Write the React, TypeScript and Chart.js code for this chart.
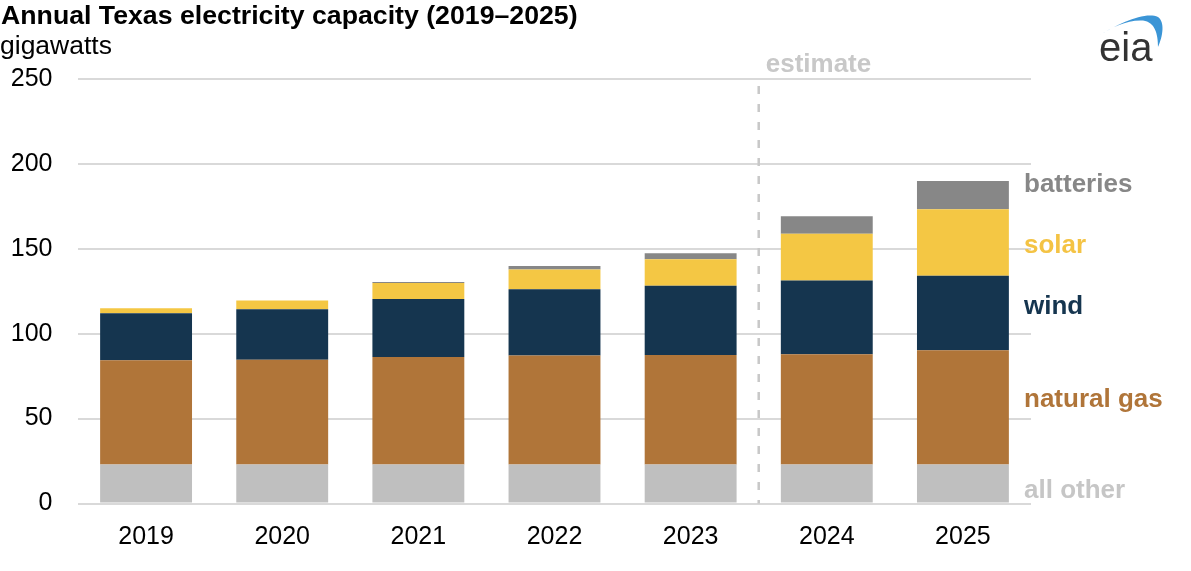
import React, { useEffect, useRef } from "react";
import { Chart, registerables } from "chart.js";

Chart.register(...registerables);

const years = ["2019", "2020", "2021", "2022", "2023", "2024", "2025"];
const allOther = [23, 23, 23, 23, 23, 23, 23];
const naturalGas = [61.4, 61.6, 63.3, 64.1, 64.5, 64.9, 67.3];
const wind = [27.7, 29.8, 34.2, 39.1, 40.7, 43.4, 43.8];
const solar = [2.9, 5.1, 9.3, 11.6, 15.7, 27.5, 39.2];
const batteries = [0, 0, 0.7, 2.1, 3.5, 10.4, 16.7];
const yTicks = [0, 50, 100, 150, 200, 250];

const seriesNames = ["all other", "natural gas", "wind", "solar", "batteries"];
const seriesColors = ["#bfbfbf", "#b07539", "#15354f", "#f4c744", "#878787"];
const labelColors = ["#c6c6c6", "#b07539", "#15354f", "#f4c344", "#878787"];
// value (gigawatts) where each right-side label's baseline sits
const labelAnchors = [3, 57, 111.7, 147.8, 183.4];
const lastActualIndex = 4; // dashed line between 2023 and 2024

const FONT = '"Liberation Sans", Arial, Helvetica, sans-serif';

const overlayPlugin = {
  id: "overlay",
  afterDraw(chart: any) {
    const ctx = chart.ctx;
    const x = chart.scales.x;
    const y = chart.scales.y;
    const area = chart.chartArea;
    ctx.save();

    // dashed estimate line
    const xs = (x.getPixelForValue(lastActualIndex) + x.getPixelForValue(lastActualIndex + 1)) / 2;
    ctx.strokeStyle = "#c8c8c8";
    ctx.lineWidth = 2.5;
    ctx.setLineDash([8, 10]);
    ctx.beginPath();
    ctx.moveTo(xs, area.top + 7);
    ctx.lineTo(xs, area.bottom);
    ctx.stroke();
    ctx.setLineDash([]);

    // estimate label
    ctx.fillStyle = "#c8c8c8";
    ctx.font = `bold 26px ${FONT}`;
    ctx.textAlign = "left";
    ctx.textBaseline = "alphabetic";
    ctx.fillText("estimate", xs + 7, 72);

    // title + unit
    ctx.fillStyle = "#000";
    ctx.font = `bold 26.7px ${FONT}`;
    ctx.fillText("Annual Texas electricity capacity (2019\u20132025)", 1, 23.5);
    ctx.font = `26.5px ${FONT}`;
    ctx.fillText("gigawatts", 0, 53.5);

    // right labels
    ctx.font = `bold 26px ${FONT}`;
    seriesNames.forEach((name, i) => {
      ctx.fillStyle = labelColors[i];
      ctx.fillText(name, area.right - 7, y.getPixelForValue(labelAnchors[i]));
    });

    // eia logo
    ctx.fillStyle = "#3b95d6";
    ctx.beginPath();
    ctx.moveTo(1100, 35);
    ctx.bezierCurveTo(1118, 24, 1145, 11, 1158, 17);
    ctx.bezierCurveTo(1165, 22, 1163, 36, 1158, 47);
    ctx.bezierCurveTo(1158, 34, 1155, 22, 1143, 20.5);
    ctx.bezierCurveTo(1128, 19.5, 1112, 27, 1100, 35);
    ctx.closePath();
    ctx.fill();
    ctx.fillStyle = "#333333";
    ctx.font = `40px ${FONT}`;
    ctx.fillText("eia", 1099, 61);

    ctx.restore();
  },
};

export default function App() {
  const ref = useRef<HTMLCanvasElement | null>(null);

  useEffect(() => {
    if (!ref.current) return;
    const datasets = [allOther, naturalGas, wind, solar, batteries].map((data, i) => ({
      label: seriesNames[i],
      data,
      backgroundColor: seriesColors[i],
      borderWidth: 0,
      categoryPercentage: 1,
      barPercentage: 0.675,
    }));
    const chart = new Chart(ref.current, {
      type: "bar",
      data: { labels: years, datasets },
      options: {
        responsive: false,
        animation: false,
        devicePixelRatio: 1,
        layout: { padding: { top: 79, right: 160, left: 0, bottom: 0 } },
        plugins: {
          legend: { display: false },
          tooltip: { enabled: false },
          title: { display: false },
        },
        scales: {
          x: {
            stacked: true,
            grid: { display: false },
            border: { display: false },
            ticks: {
              color: "#000",
              font: { family: FONT, size: 25 },
              padding: 11,
            },
            afterFit: (axis: any) => {
              axis.height = 67.5;
            },
          },
          y: {
            stacked: true,
            min: 0,
            max: 250,
            afterBuildTicks: (axis: any) => {
              axis.ticks = yTicks.map((v) => ({ value: v }));
            },
            grid: { color: "#d9d9d9", lineWidth: 2, drawTicks: false },
            border: { display: false },
            ticks: {
              color: "#000",
              font: { family: FONT, size: 25 },
              padding: 25.5,
            },
            afterFit: (axis: any) => {
              axis.width = 78;
            },
          },
        },
      },
      plugins: [overlayPlugin],
    });
    return () => chart.destroy();
  }, []);

  return (
    <div style={{ position: "fixed", left: 0, top: 0, width: 1191, height: 571, background: "#fff" }}>
      <canvas ref={ref} width={1191} height={571} style={{ display: "block" }} />
    </div>
  );
}
